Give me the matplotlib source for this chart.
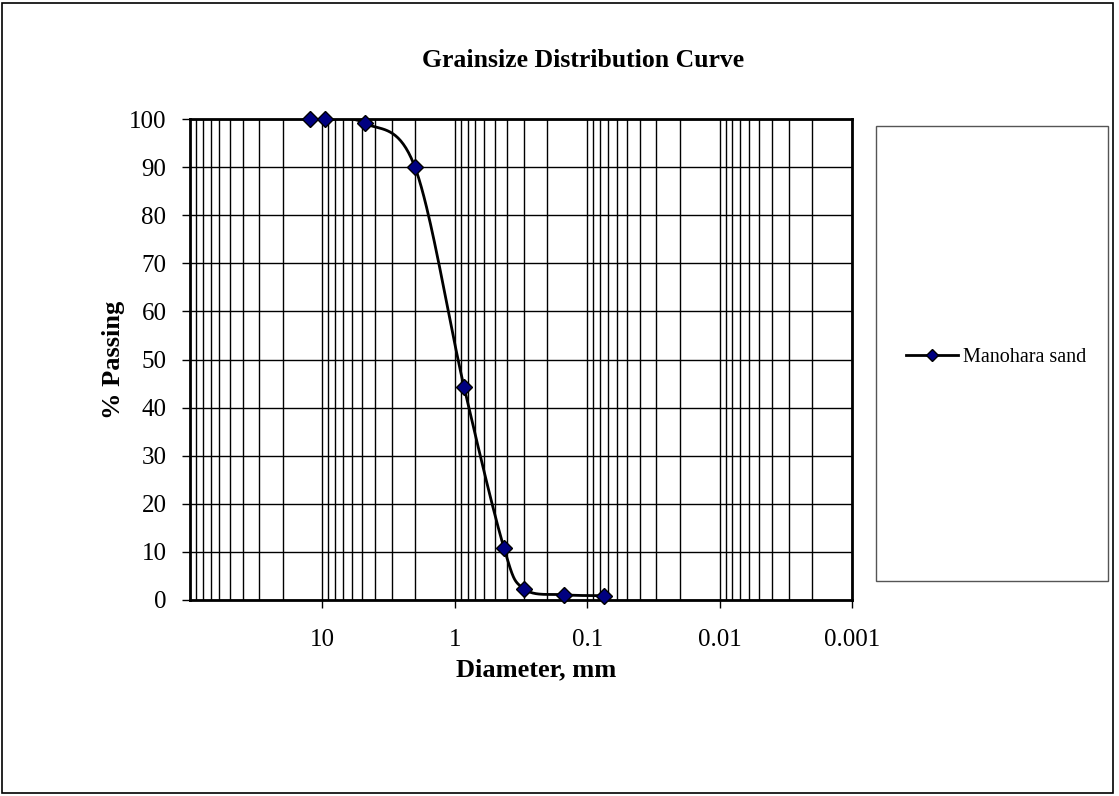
import numpy as np
import matplotlib.pyplot as plt
from matplotlib.patches import Rectangle
from matplotlib.ticker import LogLocator, FixedLocator, NullFormatter

plt.rcParams['font.family'] = ['Liberation Serif', 'DejaVu Serif']

# sieve analysis
diameter = [12.5, 9.5, 4.75, 2.0, 0.85, 0.425, 0.3, 0.15, 0.075]
passing = [100, 100, 99.1, 90, 44.2, 10.8, 2.3, 1.1, 0.9]
series_name = 'Manohara sand'
xticks = [10, 1, 0.1, 0.01, 0.001]
xtick_labels = ['10', '1', '0.1', '0.01', '0.001']


def smooth(xs, ys, n=40):
    # catmull-rom style bezier, done in (log x, y) space scaled like the plot
    px = np.log10(xs) * 132.0
    py = np.array(ys) * 4.8
    pts = np.column_stack([px, py])
    pts = np.vstack([pts[0], pts, pts[-1]])
    out = []
    for i in range(1, len(pts) - 2):
        p0, p1, p2, p3 = pts[i - 1], pts[i], pts[i + 1], pts[i + 2]
        c1 = p1 + (p2 - p0) / 6
        c2 = p2 - (p3 - p1) / 6
        t = np.linspace(0, 1, n)[:, None]
        seg = (1 - t) ** 3 * p1 + 3 * (1 - t) ** 2 * t * c1 + 3 * (1 - t) * t ** 2 * c2 + t ** 3 * p2
        out.append(seg)
    out = np.vstack(out)
    return 10 ** (out[:, 0] / 132.0), out[:, 1] / 4.8


fig = plt.figure(figsize=(11.19, 7.96), dpi=100)
fig.patches.append(Rectangle((0.002, 0.004), 0.993, 0.992, transform=fig.transFigure,
                             fill=False, edgecolor='black', linewidth=1.2))

ax = fig.add_axes([190 / 1119, 1 - 600 / 796, (852 - 190) / 1119, (600 - 119) / 796])
ax.set_xscale('log')
ax.set_xlim(100, 0.001)
ax.set_ylim(0, 100)

sx, sy = smooth(diameter, passing)
ax.plot(sx, sy, color='black', linewidth=2, zorder=3)
ax.plot(diameter, passing, linestyle='none', marker='D', markersize=8.5,
        markerfacecolor='#000080', markeredgecolor='black', markeredgewidth=1, zorder=4,
        clip_on=False)

ax.xaxis.set_major_locator(FixedLocator(xticks))
ax.set_xticklabels(xtick_labels)
ax.xaxis.set_minor_locator(LogLocator(base=10, subs=np.arange(2, 10)))
ax.xaxis.set_minor_formatter(NullFormatter())
ax.set_yticks(range(0, 101, 10))

ax.grid(True, which='major', color='black', linewidth=1)
ax.grid(True, which='minor', axis='x', color='black', linewidth=1)
ax.tick_params(axis='both', which='major', direction='out', length=6, width=1, labelsize=18)
ax.tick_params(axis='x', which='major', pad=15)
ax.tick_params(axis='y', which='major', pad=11)
ax.tick_params(axis='x', which='minor', length=0)
for s in ax.spines.values():
    s.set_linewidth(2)

ax.set_xlabel('Diameter, mm', fontsize=19, fontweight='bold', labelpad=5)
ax.xaxis.label.set_x((536 - 190) / 662)
ax.set_ylabel('% Passing', fontsize=19, fontweight='bold', labelpad=3)
fig.text(583 / 1119, 1 - 67 / 796, 'Grainsize Distribution Curve', ha='center', va='baseline',
         fontsize=18.5, fontweight='bold')

# legend box
fig.patches.append(Rectangle((876 / 1119, 1 - 581 / 796), (1108 - 876) / 1119, (581 - 126) / 796,
                             transform=fig.transFigure, fill=False, edgecolor='#555555', linewidth=1))
h, = ax.plot([], [], color='black', linewidth=2, marker='D', markersize=6.5,
             markerfacecolor='#000080', markeredgecolor='black')
fig.legend([h], [series_name], loc='center', bbox_to_anchor=(996 / 1119, 1 - 357 / 796),
           frameon=False, fontsize=14.5, handlelength=2.6, handletextpad=0.25)

fig.savefig('out.png', dpi=100)
